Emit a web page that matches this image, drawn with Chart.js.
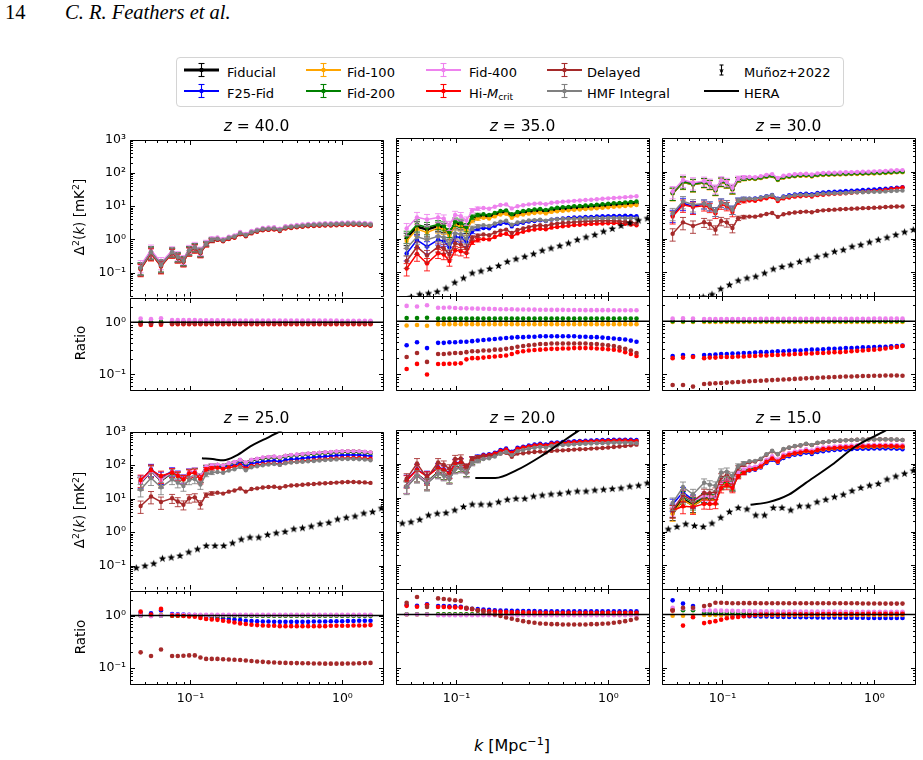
<!DOCTYPE html>
<html>
<head>
<meta charset="utf-8">
<script src="https://cdn.jsdelivr.net/npm/chart.js@4.4.0/dist/chart.umd.min.js"></script>
<style>
  body { margin: 0; background: #fff; }
  #fig { position: relative; width: 923px; height: 760px; overflow: hidden;
         font-family: 'DejaVu Sans', sans-serif; color: #000; }
  #fig canvas { position: absolute; }
  .lbl { position: absolute; white-space: nowrap; transform: translate(-50%, -50%); }
  .ttl { font-size: 15.5px; }
  .ylab { font-size: 13.5px; transform: translate(-50%, -50%) rotate(-90deg); }
  .xlab { font-size: 16px; }
  sup { font-size: 0.7em; vertical-align: 0.5em; line-height: 0; }
  sub { font-size: 0.7em; vertical-align: -0.25em; line-height: 0; }
  #hdr { position: absolute; left: 5px; top: 1px; font-family: 'Liberation Serif', serif; font-size: 20.5px; }
  #hdr i { position: absolute; left: 60px; top: 0; white-space: nowrap; }
  #legend { position: absolute; left: 176px; top: 57px; width: 666px; height: 48px;
            border: 1px solid #d4d4d4; border-radius: 4px; background: #fff; }
  .li { position: absolute; font-size: 13px; white-space: nowrap; transform: translateY(-50%); }
  .lh { position: absolute; transform: translateY(-50%); }
</style>
</head>
<body>
<div id="fig">
  <div id="hdr">14<i>C. R. Feathers et al.</i></div>
  <div id="legend"></div>
  <div class="lbl xlab" style="left:512px;top:745px"><i>k</i> [Mpc<sup>−1</sup>]</div>
</div>
<script>
// k bins of the power spectra (Mpc^-1)
const K = [0.047, 0.055, 0.064,
  0.0757, 0.0825, 0.0899, 0.098, 0.1068, 0.1163, 0.1268, 0.1381, 0.1505, 0.164,
  0.1788, 0.1948, 0.2123, 0.2313, 0.2521, 0.2747, 0.2993, 0.3262, 0.3554, 0.3873,
  0.4221, 0.4599, 0.5012, 0.5461, 0.5951, 0.6485, 0.7067, 0.7701, 0.8391, 0.9144,
  0.9964, 1.0858, 1.1832, 1.2893, 1.4049, 1.5309];

// fractional error bar per bin
const ERR = [0.4, 0.4, 0.4,
  0.3, 0.3, 0.3, 0.28, 0.28, 0.28, 0.15, 0.12, 0.1, 0.09,
  0.08, 0.07, 0.06, 0.06, 0.05, 0.05, 0.05, 0.04, 0.04, 0.04,
  0.04, 0.035, 0.035, 0.03, 0.03, 0.03, 0.03, 0.03, 0.025, 0.025,
  0.025, 0.025, 0.025, 0.02, 0.02, 0.02];

// Fiducial Delta^2(k) [mK^2]
const FID_Z40 = [0.14, 0.42, 0.17,
  0.42, 0.3, 0.23, 0.47, 0.58, 0.42, 0.75, 0.98, 1.05, 0.95,
  1.12, 1.22, 1.55, 1.35, 1.65, 1.85, 2.05, 2.1, 2.15, 1.95,
  2.3, 2.4, 2.5, 2.6, 2.7, 2.75, 2.8, 2.85, 2.85, 2.9,
  2.95, 3.0, 3.0, 2.95, 2.9, 2.8];
const FID_Z35 = [1.05, 2.3, 1.9,
  2.4, 2.2, 1.4, 2.9, 2.7, 2.0, 4.0, 4.6, 4.8, 4.6,
  5.3, 6.0, 6.3, 4.8, 5.6, 6.0, 6.4, 6.7, 6.9, 6.5,
  7.2, 7.5, 7.8, 8.0, 8.3, 8.5, 8.8, 9.0, 9.3, 9.6,
  9.9, 10.2, 10.5, 10.8, 11.2, 11.5];
const FID_Z30 = [23, 50, 42,
  48, 42, 28, 50, 45, 30, 58, 62, 63, 62,
  66, 72, 76, 58, 68, 72, 75, 77, 78, 74,
  80, 82, 83, 84, 85, 86, 87, 88, 89, 90,
  91, 92, 94, 96, 98, 99];
const FID_Z25 = [30, 68, 35,
  60, 48, 38, 58, 62, 42, 85, 95, 100, 95,
  110, 120, 140, 115, 140, 150, 162, 170, 175, 165,
  185, 195, 200, 208, 215, 220, 228, 234, 240, 245,
  250, 252, 252, 248, 242, 232];
const FID_Z20 = [22, 48, 28,
  55, 48, 38, 75, 80, 58, 110, 130, 150, 158,
  178, 215, 240, 195, 255, 275, 300, 320, 340, 325,
  365, 375, 385, 395, 405, 415, 420, 428, 435, 440,
  445, 450, 452, 452, 448, 440];
const FID_Z15 = [3.5, 9, 6,
  9.5, 9, 9, 24, 28, 22, 47, 58, 68, 72,
  84, 115, 145, 118, 165, 185, 205, 215, 240, 220,
  255, 268, 280, 290, 298, 305, 312, 318, 322, 325,
  328, 330, 330, 328, 322, 315];

// ratios to Fiducial, z = 40
const Z40_F25 = [0.97, 0.96, 0.97,
  0.97, 0.97, 0.97, 0.97, 0.97, 0.97, 0.97, 0.97, 0.97, 0.97,
  0.97, 0.97, 0.97, 0.97, 0.97, 0.97, 0.97, 0.97, 0.97, 0.97,
  0.97, 0.97, 0.97, 0.97, 0.97, 0.97, 0.97, 0.97, 0.97, 0.97,
  0.97, 0.97, 0.97, 0.97, 0.97, 0.97];
const Z40_F100 = [0.95, 0.94, 0.95,
  0.95, 0.95, 0.95, 0.95, 0.95, 0.95, 0.95, 0.95, 0.95, 0.95,
  0.95, 0.95, 0.95, 0.95, 0.95, 0.95, 0.95, 0.95, 0.95, 0.95,
  0.95, 0.95, 0.95, 0.95, 0.95, 0.95, 0.95, 0.95, 0.95, 0.95,
  0.95, 0.95, 0.95, 0.95, 0.95, 0.95];
const Z40_F200 = [1.02, 1.02, 1.03,
  1.02, 1.02, 1.02, 1.02, 1.02, 1.03, 1.02, 1.02, 1.02, 1.02,
  1.02, 1.02, 1.02, 1.02, 1.02, 1.02, 1.02, 1.02, 1.02, 1.02,
  1.02, 1.02, 1.02, 1.02, 1.02, 1.02, 1.02, 1.02, 1.02, 1.02,
  1.02, 1.02, 1.02, 1.02, 1.02, 1.02];
const Z40_F400 = [1.18, 1.15, 1.2,
  1.1, 1.1, 1.1, 1.1, 1.1, 1.09, 1.09, 1.09, 1.09, 1.09,
  1.08, 1.08, 1.08, 1.08, 1.08, 1.08, 1.08, 1.08, 1.08, 1.08,
  1.08, 1.08, 1.08, 1.08, 1.08, 1.08, 1.08, 1.08, 1.08, 1.08,
  1.07, 1.07, 1.07, 1.07, 1.07, 1.07];
const Z40_HIM = [0.9, 0.89, 0.9,
  0.92, 0.92, 0.92, 0.92, 0.92, 0.92, 0.92, 0.92, 0.92, 0.92,
  0.92, 0.92, 0.92, 0.92, 0.92, 0.92, 0.92, 0.92, 0.92, 0.92,
  0.92, 0.92, 0.92, 0.92, 0.92, 0.92, 0.92, 0.92, 0.92, 0.92,
  0.92, 0.92, 0.92, 0.92, 0.92, 0.92];
const Z40_DEL = [0.94, 0.94, 0.95,
  0.95, 0.95, 0.95, 0.95, 0.95, 0.95, 0.95, 0.95, 0.95, 0.95,
  0.95, 0.95, 0.95, 0.95, 0.95, 0.95, 0.95, 0.95, 0.95, 0.95,
  0.95, 0.95, 0.95, 0.95, 0.95, 0.95, 0.95, 0.95, 0.95, 0.95,
  0.95, 0.95, 0.95, 0.95, 0.95, 0.95];
const Z40_HMF = [1.0, 1.0, 1.0,
  1.0, 1.0, 1.0, 1.0, 1.0, 1.0, 1.0, 1.0, 1.0, 1.0,
  1.0, 1.0, 1.0, 1.0, 1.0, 1.0, 1.0, 1.0, 1.0, 1.0,
  1.0, 1.0, 1.0, 1.0, 1.0, 1.0, 1.0, 1.0, 1.0, 1.0,
  1.0, 1.0, 1.0, 1.0, 1.0, 1.0];

// z = 35
const Z35_F25 = [0.35, 0.40, 0.31,
  0.39, 0.39, 0.40, 0.40, 0.41, 0.41, 0.42, 0.43, 0.44, 0.45,
  0.46, 0.47, 0.48, 0.49, 0.50, 0.50, 0.51, 0.51, 0.52, 0.52,
  0.52, 0.52, 0.52, 0.52, 0.52, 0.51, 0.51, 0.50, 0.50, 0.49,
  0.48, 0.47, 0.46, 0.45, 0.43, 0.41];
const Z35_F100 = [0.83, 0.85, 0.82,
  0.88, 0.88, 0.88, 0.88, 0.88, 0.88, 0.88, 0.88, 0.88, 0.88,
  0.88, 0.88, 0.88, 0.88, 0.88, 0.88, 0.88, 0.88, 0.88, 0.88,
  0.88, 0.88, 0.88, 0.88, 0.88, 0.88, 0.88, 0.88, 0.88, 0.88,
  0.88, 0.88, 0.88, 0.88, 0.88, 0.88];
const Z35_F200 = [1.15, 1.15, 1.16,
  1.12, 1.12, 1.12, 1.12, 1.12, 1.12, 1.12, 1.12, 1.12, 1.12,
  1.12, 1.12, 1.12, 1.12, 1.12, 1.12, 1.12, 1.12, 1.12, 1.12,
  1.12, 1.12, 1.12, 1.12, 1.12, 1.12, 1.12, 1.12, 1.12, 1.12,
  1.12, 1.12, 1.12, 1.12, 1.12, 1.12];
const Z35_F400 = [1.95, 1.9, 2.0,
  1.80, 1.80, 1.82, 1.78, 1.76, 1.75, 1.74, 1.73, 1.72, 1.71,
  1.70, 1.69, 1.68, 1.68, 1.67, 1.67, 1.66, 1.66, 1.65, 1.65,
  1.64, 1.64, 1.64, 1.63, 1.63, 1.63, 1.62, 1.62, 1.62, 1.62,
  1.62, 1.61, 1.61, 1.61, 1.61, 1.61];
const Z35_HIM = [0.125, 0.156, 0.098,
  0.155, 0.156, 0.157, 0.158, 0.16, 0.19, 0.2, 0.2, 0.205, 0.21,
  0.215, 0.22, 0.225, 0.24, 0.26, 0.27, 0.28, 0.285, 0.29, 0.295,
  0.30, 0.30, 0.305, 0.305, 0.31, 0.31, 0.31, 0.31, 0.305, 0.30,
  0.295, 0.29, 0.28, 0.26, 0.24, 0.22];
const Z35_DEL = [0.21, 0.25, 0.17,
  0.24, 0.24, 0.245, 0.25, 0.25, 0.26, 0.27, 0.27, 0.28, 0.28,
  0.29, 0.29, 0.30, 0.31, 0.33, 0.34, 0.35, 0.36, 0.37, 0.37,
  0.38, 0.38, 0.38, 0.38, 0.38, 0.38, 0.38, 0.37, 0.37, 0.36,
  0.35, 0.34, 0.32, 0.30, 0.28, 0.25];
const Z35_HMF = [0.5, 0.5, 0.5,
  0.50, 0.50, 0.50, 0.50, 0.51, 0.51, 0.52, 0.52, 0.53, 0.53,
  0.54, 0.54, 0.55, 0.55, 0.55, 0.55, 0.55, 0.54, 0.54, 0.53,
  0.52, 0.51, 0.50, 0.49, 0.48, 0.47, 0.46, 0.45, 0.44, 0.43,
  0.42, 0.41, 0.40, 0.38, 0.37, 0.35];

// z = 30
const Z30_F25 = [0.22, 0.23, 0.22,
  0.23, 0.23, 0.235, 0.24, 0.24, 0.245, 0.245, 0.25, 0.25, 0.255,
  0.26, 0.26, 0.265, 0.27, 0.27, 0.275, 0.28, 0.28, 0.285, 0.29,
  0.29, 0.295, 0.30, 0.30, 0.305, 0.31, 0.31, 0.315, 0.32, 0.32,
  0.325, 0.33, 0.33, 0.335, 0.34, 0.345];
const Z30_F100 = [0.97, 0.97, 0.97,
  0.97, 0.97, 0.97, 0.97, 0.97, 0.97, 0.97, 0.97, 0.97, 0.97,
  0.97, 0.97, 0.97, 0.97, 0.97, 0.97, 0.97, 0.97, 0.97, 0.97,
  0.97, 0.97, 0.97, 0.97, 0.97, 0.97, 0.97, 0.97, 0.97, 0.97,
  0.97, 0.97, 0.97, 0.97, 0.97, 0.97];
const Z30_F200 = [1.0, 1.0, 1.0,
  1.01, 1.01, 1.01, 1.01, 1.01, 1.01, 1.01, 1.01, 1.01, 1.01,
  1.01, 1.01, 1.01, 1.01, 1.01, 1.01, 1.01, 1.01, 1.01, 1.01,
  1.01, 1.01, 1.01, 1.01, 1.01, 1.01, 1.01, 1.01, 1.01, 1.01,
  1.01, 1.01, 1.01, 1.01, 1.01, 1.01];
const Z30_F400 = [1.12, 1.13, 1.12,
  1.1, 1.1, 1.1, 1.1, 1.1, 1.1, 1.1, 1.1, 1.1, 1.1,
  1.11, 1.11, 1.11, 1.11, 1.11, 1.11, 1.11, 1.11, 1.11, 1.11,
  1.11, 1.11, 1.11, 1.11, 1.11, 1.11, 1.11, 1.11, 1.11, 1.11,
  1.12, 1.12, 1.12, 1.12, 1.12, 1.12];
const Z30_HIM = [0.2, 0.205, 0.21,
  0.2, 0.205, 0.205, 0.21, 0.21, 0.21, 0.215, 0.215, 0.22, 0.22,
  0.225, 0.225, 0.23, 0.23, 0.235, 0.235, 0.24, 0.24, 0.245, 0.245,
  0.25, 0.25, 0.255, 0.26, 0.26, 0.265, 0.27, 0.275, 0.28, 0.285,
  0.29, 0.295, 0.305, 0.315, 0.325, 0.34];
const Z30_DEL = [0.062, 0.062, 0.058,
  0.065, 0.066, 0.067, 0.068, 0.069, 0.07, 0.071, 0.072, 0.073, 0.074,
  0.075, 0.076, 0.077, 0.078, 0.079, 0.08, 0.081, 0.082, 0.083, 0.084,
  0.085, 0.086, 0.087, 0.088, 0.089, 0.09, 0.09, 0.091, 0.092, 0.092,
  0.093, 0.093, 0.094, 0.094, 0.094, 0.093];
const Z30_HMF = [0.25, 0.26, 0.25,
  0.23, 0.23, 0.235, 0.24, 0.24, 0.245, 0.245, 0.25, 0.25, 0.25,
  0.255, 0.255, 0.26, 0.26, 0.26, 0.26, 0.265, 0.265, 0.265, 0.27,
  0.27, 0.27, 0.27, 0.27, 0.27, 0.27, 0.275, 0.275, 0.275, 0.275,
  0.275, 0.275, 0.275, 0.275, 0.275, 0.275];

// z = 25
const Z25_F25 = [1.12, 1.1, 1.25,
  1.07, 1.06, 1.05, 1.04, 1.02, 0.98, 0.95, 0.92, 0.9, 0.88,
  0.86, 0.84, 0.82, 0.8, 0.79, 0.78, 0.77, 0.77, 0.76, 0.76,
  0.76, 0.76, 0.76, 0.76, 0.76, 0.77, 0.77, 0.77, 0.78, 0.78,
  0.78, 0.79, 0.79, 0.8, 0.8, 0.8];
const Z25_F100 = [1.03, 1.0, 1.04,
  1.0, 1.0, 1.0, 1.0, 1.0, 1.0, 1.0, 1.0, 1.0, 1.0,
  1.0, 1.0, 1.0, 1.0, 1.0, 1.0, 1.0, 1.0, 1.0, 1.0,
  1.0, 1.0, 1.0, 1.0, 1.0, 1.0, 1.0, 1.0, 1.0, 1.0,
  1.0, 1.0, 1.0, 1.0, 1.0, 1.0];
const Z25_F200 = [0.99, 0.99, 0.99,
  0.99, 0.99, 0.99, 0.99, 0.99, 0.99, 0.99, 0.99, 0.99, 0.99,
  0.99, 0.99, 0.99, 0.99, 0.99, 0.99, 0.99, 0.99, 0.99, 0.99,
  0.99, 0.99, 0.99, 0.99, 0.99, 0.99, 0.99, 0.99, 0.99, 0.99,
  0.99, 0.99, 0.99, 0.99, 0.99, 0.99];
const Z25_F400 = [1.0, 0.97, 1.0,
  1.03, 1.03, 1.03, 1.03, 1.03, 1.03, 1.03, 1.03, 1.03, 1.03,
  1.03, 1.03, 1.03, 1.03, 1.03, 1.03, 1.03, 1.03, 1.03, 1.03,
  1.03, 1.03, 1.03, 1.03, 1.03, 1.03, 1.03, 1.03, 1.03, 1.03,
  1.03, 1.03, 1.03, 1.03, 1.03, 1.03];
const Z25_HIM = [1.19, 1.05, 1.34,
  1.0, 1.0, 0.98, 0.96, 0.95, 0.9, 0.86, 0.84, 0.83, 0.8,
  0.77, 0.74, 0.71, 0.69, 0.67, 0.66, 0.65, 0.64, 0.64, 0.63,
  0.63, 0.63, 0.63, 0.63, 0.63, 0.63, 0.63, 0.63, 0.64, 0.64,
  0.64, 0.64, 0.65, 0.65, 0.65, 0.66];
const Z25_DEL = [0.2, 0.17, 0.226,
  0.17, 0.17, 0.172, 0.175, 0.175, 0.16, 0.15, 0.15, 0.15, 0.148,
  0.146, 0.145, 0.143, 0.14, 0.137, 0.134, 0.132, 0.13, 0.128, 0.127,
  0.126, 0.125, 0.125, 0.124, 0.124, 0.123, 0.123, 0.122, 0.122, 0.122,
  0.122, 0.123, 0.123, 0.124, 0.125, 0.126];
const Z25_HMF = [0.62, 0.6, 0.62,
  0.62, 0.62, 0.62, 0.62, 0.62, 0.62, 0.62, 0.62, 0.62, 0.62,
  0.62, 0.62, 0.62, 0.61, 0.61, 0.61, 0.61, 0.61, 0.61, 0.61,
  0.61, 0.61, 0.61, 0.6, 0.6, 0.6, 0.6, 0.6, 0.6, 0.6,
  0.6, 0.6, 0.6, 0.6, 0.6, 0.6];

// z = 20
const Z20_F25 = [1.5, 1.45, 1.55,
  1.44, 1.44, 1.43, 1.42, 1.4, 1.3, 1.28, 1.26, 1.24, 1.22,
  1.2, 1.19, 1.18, 1.17, 1.17, 1.16, 1.16, 1.16, 1.15, 1.15,
  1.15, 1.15, 1.15, 1.15, 1.15, 1.15, 1.15, 1.15, 1.15, 1.15,
  1.15, 1.15, 1.15, 1.15, 1.15, 1.15];
const Z20_F100 = [1.0, 1.0, 1.0,
  1.0, 1.0, 1.0, 1.0, 1.0, 1.0, 1.0, 1.0, 1.0, 1.0,
  1.0, 1.0, 1.0, 1.0, 1.0, 1.0, 1.0, 1.0, 1.0, 1.0,
  1.0, 1.0, 1.0, 1.0, 1.0, 1.0, 1.0, 1.0, 1.0, 1.0,
  1.0, 1.0, 1.0, 1.0, 1.0, 1.0];
const Z20_F200 = [1.01, 1.01, 1.01,
  1.01, 1.01, 1.01, 1.01, 1.01, 1.01, 1.01, 1.01, 1.01, 1.01,
  1.01, 1.01, 1.01, 1.01, 1.01, 1.01, 1.01, 1.01, 1.01, 1.01,
  1.01, 1.01, 1.01, 1.01, 1.01, 1.01, 1.01, 1.01, 1.01, 1.01,
  1.01, 1.01, 1.01, 1.01, 1.01, 1.01];
const Z20_F400 = [1.0, 1.0, 1.0,
  0.97, 0.97, 0.97, 0.97, 0.97, 0.97, 0.97, 0.97, 0.97, 0.97,
  0.97, 0.97, 0.97, 0.97, 0.97, 0.97, 0.97, 0.97, 0.97, 0.97,
  0.97, 0.97, 0.97, 0.97, 0.97, 0.97, 0.97, 0.97, 0.97, 0.97,
  0.97, 0.97, 0.97, 0.97, 0.97, 0.97];
const Z20_HIM = [1.45, 1.4, 1.5,
  1.38, 1.38, 1.37, 1.36, 1.35, 1.3, 1.25, 1.2, 1.17, 1.15,
  1.13, 1.12, 1.11, 1.1, 1.1, 1.1, 1.09, 1.09, 1.09, 1.08,
  1.08, 1.08, 1.08, 1.08, 1.08, 1.08, 1.08, 1.08, 1.08, 1.08,
  1.08, 1.08, 1.08, 1.08, 1.08, 1.08];
const Z20_DEL = [1.66, 2.13, 1.38,
  2.0, 1.95, 1.9, 1.85, 1.8, 1.34, 1.28, 1.2, 1.12, 1.06,
  1.0, 0.94, 0.88, 0.83, 0.79, 0.75, 0.72, 0.7, 0.68, 0.67,
  0.66, 0.66, 0.65, 0.65, 0.65, 0.65, 0.65, 0.66, 0.66, 0.67,
  0.68, 0.7, 0.72, 0.75, 0.79, 0.84];
const Z20_HMF = [0.93, 0.93, 0.93,
  0.93, 0.93, 0.93, 0.93, 0.93, 0.93, 0.93, 0.93, 0.93, 0.93,
  0.93, 0.93, 0.93, 0.93, 0.93, 0.93, 0.93, 0.93, 0.93, 0.93,
  0.93, 0.93, 0.93, 0.93, 0.93, 0.93, 0.93, 0.93, 0.93, 0.93,
  0.93, 0.93, 0.93, 0.93, 0.93, 0.93];

// z = 15
const Z15_F25 = [1.84, 1.6, 1.44,
  1.07, 1.05, 1.02, 1.0, 0.98, 0.96, 0.95, 0.94, 0.93, 0.93,
  0.92, 0.92, 0.91, 0.91, 0.9, 0.9, 0.9, 0.89, 0.89, 0.89,
  0.88, 0.88, 0.88, 0.88, 0.87, 0.87, 0.87, 0.87, 0.87, 0.86,
  0.86, 0.86, 0.86, 0.86, 0.86, 0.86];
const Z15_F100 = [0.95, 0.95, 0.95,
  0.98, 0.98, 0.98, 0.98, 0.98, 0.98, 0.98, 0.98, 0.98, 0.98,
  0.98, 0.98, 0.98, 0.98, 0.98, 0.98, 0.98, 0.98, 0.98, 0.98,
  0.98, 0.98, 0.98, 0.98, 0.98, 0.98, 0.98, 0.98, 0.98, 0.98,
  0.98, 0.98, 0.98, 0.98, 0.98, 0.98];
const Z15_F200 = [1.24, 1.2, 1.2,
  1.07, 1.07, 1.07, 1.07, 1.07, 1.07, 1.07, 1.07, 1.07, 1.07,
  1.07, 1.07, 1.07, 1.07, 1.07, 1.07, 1.07, 1.07, 1.07, 1.07,
  1.07, 1.07, 1.07, 1.07, 1.07, 1.07, 1.07, 1.07, 1.07, 1.07,
  1.07, 1.07, 1.07, 1.07, 1.07, 1.07];
const Z15_F400 = [1.34, 1.3, 1.3,
  1.19, 1.19, 1.18, 1.18, 1.17, 1.17, 1.16, 1.16, 1.16, 1.15,
  1.15, 1.15, 1.15, 1.14, 1.14, 1.14, 1.14, 1.14, 1.13, 1.13,
  1.13, 1.13, 1.13, 1.13, 1.13, 1.12, 1.12, 1.12, 1.12, 1.12,
  1.12, 1.12, 1.12, 1.12, 1.12, 1.12];
const Z15_HIM = [1.19, 0.62, 0.89,
  0.69, 0.72, 0.75, 0.8, 0.85, 0.88, 0.9, 0.93, 0.96, 0.98,
  1.0, 1.0, 1.0, 1.0, 1.0, 1.01, 1.01, 1.01, 1.01, 1.01,
  1.01, 1.02, 1.02, 1.02, 1.02, 1.02, 1.02, 1.02, 1.02, 1.03,
  1.03, 1.03, 1.03, 1.03, 1.03, 1.03];
const Z15_DEL = [1.19, 1.34, 1.34,
  1.44, 1.5, 1.66, 1.66, 1.64, 1.62, 1.62, 1.63, 1.63, 1.63,
  1.62, 1.62, 1.62, 1.62, 1.62, 1.62, 1.62, 1.62, 1.62, 1.62,
  1.62, 1.62, 1.62, 1.62, 1.62, 1.62, 1.62, 1.62, 1.61, 1.61,
  1.61, 1.61, 1.6, 1.6, 1.6, 1.6];
const Z15_HMF = [2.0, 2.3, 2.1,
  2.9, 2.7, 2.5, 2.3, 2.1, 2.0, 1.85, 1.8, 1.75, 1.7,
  1.7, 1.68, 1.68, 1.66, 1.66, 1.65, 1.65, 1.65, 1.65, 1.65,
  1.64, 1.64, 1.64, 1.64, 1.64, 1.64, 1.63, 1.63, 1.63, 1.63,
  1.62, 1.62, 1.62, 1.62, 1.62, 1.62];

// Muñoz+2022 reference points
const STAR_K = [0.044, 0.0502, 0.0573, 0.0654, 0.0747, 0.0853, 0.0974, 0.1112, 0.127, 0.145,
  0.1656, 0.1891, 0.2159, 0.2465, 0.2814, 0.3214, 0.3669, 0.419, 0.4784, 0.5462,
  0.6237, 0.7121, 0.8131, 0.9285, 1.0602, 1.2106, 1.3822, 1.5782, 1.802];
const STAR_Z35 = [0.0158, 0.019, 0.0229, 0.0245, 0.0275, 0.0347, 0.0513, 0.0692, 0.0977, 0.112,
  0.132, 0.162, 0.214, 0.257, 0.302, 0.363, 0.457, 0.537, 0.631, 0.759,
  0.955, 1.148, 1.349, 1.698, 2.042, 2.512, 3.02, 3.63, 4.17];
const STAR_Z30 = [0.0079, 0.01, 0.0126, 0.0158, 0.019, 0.0229, 0.0331, 0.0437, 0.0589, 0.0692,
  0.0776, 0.0977, 0.129, 0.151, 0.17, 0.214, 0.24, 0.302, 0.339, 0.427,
  0.479, 0.603, 0.676, 0.813, 0.955, 1.122, 1.349, 1.622, 1.905];
const STAR_Z25 = [0.087, 0.1, 0.117, 0.166, 0.178, 0.2, 0.257, 0.316, 0.398, 0.398,
  0.398, 0.479, 0.617, 0.708, 0.708, 0.851, 0.955, 1.047, 1.259, 1.349,
  1.514, 1.778, 1.95, 2.455, 2.754, 3.02, 3.715, 4.074, 5.248];
const STAR_Z20 = [1.78, 1.95, 2.29, 3.09, 3.47, 3.63, 4.37, 5.5, 6.46, 6.46,
  6.46, 7.59, 8.91, 9.55, 9.55, 11.2, 12.0, 12.9, 13.5, 14.8,
  15.8, 15.8, 17.0, 17.8, 18.6, 19.5, 21.9, 23.4, 27.5];
const STAR_Z15 = [1.2, 1.41, 1.7, 1.51, 1.41, 1.78, 2.63, 3.89, 5.13, 4.68,
  3.09, 3.09, 5.13, 5.13, 4.37, 5.75, 5.75, 7.59, 8.91, 10.7,
  12.6, 16.2, 20.0, 23.4, 26.3, 35.5, 43.7, 52.5, 64.6];

// HERA limits
const HERA_K_Z25 = [0.119, 0.14, 0.165, 0.2, 0.248, 0.3, 0.38, 0.45];
const HERA_Z25 = [160, 150, 138, 190, 360, 560, 950, 1500];
const HERA_K_Z20 = [0.133, 0.18, 0.251, 0.356, 0.483, 0.637, 0.8];
const HERA_Z20 = [38, 38, 66, 162, 410, 960, 1800];
const HERA_K_Z15 = [0.153, 0.201, 0.273, 0.352, 0.526, 0.75, 1.18, 1.5];
const HERA_Z15 = [6.2, 7.4, 12.3, 27, 94, 325, 960, 1800];

const SERIES = [
  { key: 'fid',  label: 'Fiducial',     color: '#000000', lw: 2.6 },
  { key: 'f25',  label: 'F25-Fid',      color: '#0000ff', lw: 1.5 },
  { key: 'f100', label: 'Fid-100',      color: '#ffa500', lw: 1.5 },
  { key: 'f200', label: 'Fid-200',      color: '#008000', lw: 1.5 },
  { key: 'f400', label: 'Fid-400',      color: '#ee82ee', lw: 1.5 },
  { key: 'him',  label: 'Hi-<i>M</i><sub>crit</sub>', color: '#ff0000', lw: 1.5 },
  { key: 'del',  label: 'Delayed',      color: '#a52a2a', lw: 1.5 },
  { key: 'hmf',  label: 'HMF Integral', color: '#808080', lw: 1.5 }
];

const PANELS = [
  { z: '40.0', col: 0, row: 0, fid: FID_Z40,
    r: { f25: Z40_F25, f100: Z40_F100, f200: Z40_F200, f400: Z40_F400, him: Z40_HIM, del: Z40_DEL, hmf: Z40_HMF },
    stars: null, heraK: null, hera: null },
  { z: '35.0', col: 1, row: 0, fid: FID_Z35,
    r: { f25: Z35_F25, f100: Z35_F100, f200: Z35_F200, f400: Z35_F400, him: Z35_HIM, del: Z35_DEL, hmf: Z35_HMF },
    stars: STAR_Z35, heraK: null, hera: null },
  { z: '30.0', col: 2, row: 0, fid: FID_Z30,
    r: { f25: Z30_F25, f100: Z30_F100, f200: Z30_F200, f400: Z30_F400, him: Z30_HIM, del: Z30_DEL, hmf: Z30_HMF },
    stars: STAR_Z30, heraK: null, hera: null },
  { z: '25.0', col: 0, row: 1, fid: FID_Z25,
    r: { f25: Z25_F25, f100: Z25_F100, f200: Z25_F200, f400: Z25_F400, him: Z25_HIM, del: Z25_DEL, hmf: Z25_HMF },
    stars: STAR_Z25, heraK: HERA_K_Z25, hera: HERA_Z25 },
  { z: '20.0', col: 1, row: 1, fid: FID_Z20,
    r: { f25: Z20_F25, f100: Z20_F100, f200: Z20_F200, f400: Z20_F400, him: Z20_HIM, del: Z20_DEL, hmf: Z20_HMF },
    stars: STAR_Z20, heraK: HERA_K_Z20, hera: HERA_Z20 },
  { z: '15.0', col: 2, row: 1, fid: FID_Z15,
    r: { f25: Z15_F25, f100: Z15_F100, f200: Z15_F200, f400: Z15_F400, him: Z15_HIM, del: Z15_DEL, hmf: Z15_HMF },
    stars: STAR_Z15, heraK: HERA_K_Z15, hera: HERA_Z15 }
];

// layout (pixels)
const COL_X = [130, 396, 662];
const PLOT_W = 253;
const ROWS = [
  { mainTop: 138, mainH: 158, ratioTop: 296, ratioH: 94 },
  { mainTop: 430, mainH: 159, ratioTop: 589, ratioH: 95 }
];
const AXW = 60, PAD = 10, AXH = 30;
const fig = document.getElementById('fig');

PANELS.forEach(p => {
  if (p.fid.length !== K.length) console.warn('fid length', p.z, p.fid.length);
  Object.keys(p.r).forEach(k => { if (p.r[k].length !== K.length) console.warn('ratio length', p.z, k, p.r[k].length); });
});

// filled star marker like matplotlib '*'
const starImg = document.createElement('canvas');
starImg.width = 9; starImg.height = 9;
(() => {
  const c = starImg.getContext('2d');
  c.beginPath();
  for (let i = 0; i < 10; i++) {
    const rr = i % 2 === 0 ? 4.0 : 1.7;
    const a = -Math.PI / 2 + i * Math.PI / 5;
    const px = 4.5 + rr * Math.cos(a), py = 4.9 + rr * Math.sin(a);
    if (i === 0) c.moveTo(px, py); else c.lineTo(px, py);
  }
  c.closePath();
  c.fillStyle = '#000';
  c.fill();
})();

const SUP = { '-': '⁻', '0': '⁰', '1': '¹', '2': '²', '3': '³' };
function decadeLabel(v) {
  const e = Math.log10(v), r = Math.round(e);
  if (Math.abs(e - r) > 1e-6) return '';
  return '10' + String(r).split('').map(ch => SUP[ch]).join('');
}

function logAxis(min, max, show, isX) {
  return {
    type: 'logarithmic', min, max,
    grid: { display: false, drawTicks: false },
    border: { display: false },
    ticks: {
      display: show, autoSkip: false, maxRotation: 0, minRotation: 0,
      padding: isX ? 7 : 4, color: '#000',
      font: { family: 'DejaVu Sans', size: 12.5 },
      callback: (v) => decadeLabel(v)
    },
    afterFit: (s) => { if (isX) s.height = AXH; else s.width = AXW; }
  };
}

// inward ticks on all four sides + frame (sides chosen per panel)
function frameTicks(drawBottomEdge) {
  return {
    id: 'frameTicks',
    afterDraw(chart) {
      const { ctx, chartArea: a, scales: { x, y } } = chart;
      const ticksOf = (sc) => {
        const out = [];
        const lo = Math.floor(Math.log10(sc.min)), hi = Math.ceil(Math.log10(sc.max));
        for (let d = lo; d <= hi; d++) {
          for (let m = 1; m < 10; m++) {
            const v = m * Math.pow(10, d);
            if (v >= sc.min * 0.9999 && v <= sc.max * 1.0001) out.push({ v, major: m === 1 });
          }
        }
        return out;
      };
      const L = Math.round(a.left) + 0.5, R = Math.round(a.right) + 0.5;
      const T = Math.round(a.top) + 0.5, B = Math.round(a.bottom) + 0.5;
      ctx.save();
      ctx.strokeStyle = '#000';
      ctx.lineWidth = 1;
      ctx.beginPath();
      ticksOf(x).forEach(t => {
        const px = Math.round(x.getPixelForValue(t.v)) + 0.5;
        const len = t.major ? 4.5 : 2.5;
        ctx.moveTo(px, B); ctx.lineTo(px, B - len);
        ctx.moveTo(px, T); ctx.lineTo(px, T + len);
      });
      ticksOf(y).forEach(t => {
        const py = Math.round(y.getPixelForValue(t.v)) + 0.5;
        const len = t.major ? 4.5 : 2.5;
        ctx.moveTo(L, py); ctx.lineTo(L + len, py);
        ctx.moveTo(R, py); ctx.lineTo(R - len, py);
      });
      ctx.moveTo(L, B); ctx.lineTo(L, T); ctx.lineTo(R, T); ctx.lineTo(R, B);
      if (drawBottomEdge) { ctx.moveTo(L, B); ctx.lineTo(R, B); }
      ctx.stroke();
      ctx.restore();
    }
  };
}

// vertical error bars with caps, drawn right after each dataset
const errorBars = {
  id: 'errorBars',
  afterDatasetDraw(chart, args) {
    const ds = chart.data.datasets[args.index];
    if (!ds.errFrac) return;
    const { ctx, chartArea: a, scales: { x, y } } = chart;
    ctx.save();
    ctx.beginPath();
    ctx.rect(a.left, a.top, a.right - a.left, a.bottom - a.top);
    ctx.clip();
    ctx.strokeStyle = ds.borderColor;
    ctx.globalAlpha = 0.85;
    ctx.lineWidth = 1;
    ctx.beginPath();
    ds.data.forEach((pt, i) => {
      const e = ds.errFrac[i];
      const px = x.getPixelForValue(pt.x);
      const y0 = y.getPixelForValue(pt.y * (1 - e));
      const y1 = y.getPixelForValue(pt.y * (1 + e));
      if (Math.abs(y0 - y1) < 3) return;
      ctx.moveTo(px, y0); ctx.lineTo(px, y1);
      ctx.moveTo(px - 3, y0); ctx.lineTo(px + 3, y0);
      ctx.moveTo(px - 3, y1); ctx.lineTo(px + 3, y1);
    });
    ctx.stroke();
    ctx.restore();
  }
};

// horizontal reference at ratio = 1
const unityLine = {
  id: 'unityLine',
  afterDatasetsDraw(chart) {
    const { ctx, chartArea: a, scales: { y } } = chart;
    const py = y.getPixelForValue(1);
    ctx.save();
    ctx.strokeStyle = '#000';
    ctx.lineWidth = 1.5;
    ctx.beginPath();
    ctx.moveTo(a.left, py); ctx.lineTo(a.right, py);
    ctx.stroke();
    ctx.restore();
  }
};

function makeCanvas(left, top, plotH) {
  const c = document.createElement('canvas');
  c.width = AXW + PLOT_W + PAD;
  c.height = PAD + plotH + AXH;
  c.style.left = (left - AXW) + 'px';
  c.style.top = (top - PAD) + 'px';
  fig.appendChild(c);
  return c;
}

function addText(html, cls, x, y) {
  const d = document.createElement('div');
  d.className = 'lbl ' + cls;
  d.style.left = x + 'px';
  d.style.top = y + 'px';
  d.innerHTML = html;
  fig.appendChild(d);
}

const baseOpts = (xShow, yShow, ymin, ymax) => ({
  responsive: false,
  animation: false,
  devicePixelRatio: 1,
  events: [],
  layout: { padding: { top: PAD, right: PAD, left: 0, bottom: 0 } },
  plugins: { legend: { display: false }, tooltip: { enabled: false } },
  scales: {
    x: logAxis(0.04, 1.85, xShow, true),
    y: logAxis(ymin, ymax, yShow, false)
  }
});

PANELS.forEach(p => {
  const left = COL_X[p.col];
  const R = ROWS[p.row];

  // main panel
  const mainSets = SERIES.map((s, si) => ({
    data: K.map((k, i) => ({ x: k, y: p.fid[i] * (p.r[s.key] ? p.r[s.key][i] : 1) })),
    borderColor: s.color,
    backgroundColor: s.color,
    borderWidth: s.lw,
    pointRadius: 2.2,
    pointBorderWidth: 0,
    pointBackgroundColor: s.color,
    tension: 0,
    errFrac: ERR,
    order: 100 - si
  }));
  if (p.stars) {
    mainSets.push({
      data: STAR_K.map((k, i) => ({ x: k, y: p.stars[i] })),
      showLine: false, pointStyle: starImg, pointRadius: 4,
      borderColor: '#000', backgroundColor: '#000', order: 50
    });
  }
  if (p.hera) {
    mainSets.push({
      data: p.heraK.map((k, i) => ({ x: k, y: p.hera[i] })),
      borderColor: '#000', borderWidth: 2, pointRadius: 0,
      cubicInterpolationMode: 'monotone', order: 40
    });
  }
  new Chart(makeCanvas(left, R.mainTop, R.mainH), {
    type: 'line',
    data: { datasets: mainSets },
    options: baseOpts(false, p.col === 0, 0.02, 1000),
    plugins: [errorBars, frameTicks(false)]
  });

  // ratio panel
  const ratioSets = SERIES.filter(s => s.key !== 'fid' && s.key !== 'hmf').map((s, si) => ({
    data: K.map((k, i) => ({ x: k, y: p.r[s.key][i] })),
    showLine: false,
    pointRadius: 2.3,
    pointBorderWidth: 0,
    pointBackgroundColor: s.color,
    borderColor: s.color,
    order: 100 - si
  }));
  new Chart(makeCanvas(left, R.ratioTop, R.ratioH), {
    type: 'line',
    data: { datasets: ratioSets },
    options: baseOpts(p.row === 1, p.col === 0, 0.05, 3),
    plugins: [unityLine, frameTicks(true)]
  });

  addText('<i>z</i> = ' + p.z, 'ttl', left + PLOT_W / 2, R.mainTop - 12);
  if (p.col === 0) {
    addText('Δ<sup>2</sup>(<i>k</i>) [mK<sup>2</sup>]', 'ylab', 79, R.mainTop + R.mainH / 2);
    addText('Ratio', 'ylab', 80, R.ratioTop + R.ratioH / 2);
  }
});

// legend: five columns, filled column by column
const legend = document.getElementById('legend');
const COLS_H = [7, 129, 249, 370, 527];
const COLS_T = [50, 170, 292, 410, 567];
const ROWS_Y = [14, 35];
function seriesHandle(color, lw) {
  return `<svg width="35" height="18" viewBox="0 0 35 18">
    <line x1="0" y1="9" x2="35" y2="9" stroke="${color}" stroke-width="${lw}"/>
    <line x1="17.5" y1="2.5" x2="17.5" y2="15.5" stroke="${color}" stroke-width="1.1"/>
    <line x1="14.5" y1="2.5" x2="20.5" y2="2.5" stroke="${color}" stroke-width="1.1"/>
    <line x1="14.5" y1="15.5" x2="20.5" y2="15.5" stroke="${color}" stroke-width="1.1"/>
    <circle cx="17.5" cy="9" r="2.2" fill="${color}"/></svg>`;
}
const starHandle = `<svg width="35" height="18" viewBox="0 0 35 18">
    <line x1="17.5" y1="4" x2="17.5" y2="14" stroke="#000" stroke-width="1.1"/>
    <line x1="15.5" y1="4" x2="19.5" y2="4" stroke="#000" stroke-width="1.1"/>
    <line x1="15.5" y1="14" x2="19.5" y2="14" stroke="#000" stroke-width="1.1"/>
    <polygon points="17.5,6.8 18.2,8.5 19.9,8.6 18.6,9.7 19,11.4 17.5,10.5 16,11.4 16.4,9.7 15.1,8.6 16.8,8.5" fill="#000"/></svg>`;
const heraHandle = `<svg width="35" height="18" viewBox="0 0 35 18">
    <line x1="0" y1="9" x2="35" y2="9" stroke="#000" stroke-width="2.2"/></svg>`;
const entries = SERIES.map(s => ({ handle: seriesHandle(s.color, s.key === 'fid' ? 3 : 2), label: s.label }));
entries.push({ handle: starHandle, label: 'Muñoz+2022' });
entries.push({ handle: heraHandle, label: 'HERA' });
entries.forEach((e, i) => {
  const c = Math.floor(i / 2), r = i % 2;
  const h = document.createElement('div');
  h.className = 'lh';
  h.style.left = COLS_H[c] + 'px';
  h.style.top = ROWS_Y[r] + 'px';
  h.innerHTML = e.handle;
  legend.appendChild(h);
  const t = document.createElement('div');
  t.className = 'li';
  t.style.left = COLS_T[c] + 'px';
  t.style.top = ROWS_Y[r] + 'px';
  t.innerHTML = e.label;
  legend.appendChild(t);
});
</script>
</body>
</html>
